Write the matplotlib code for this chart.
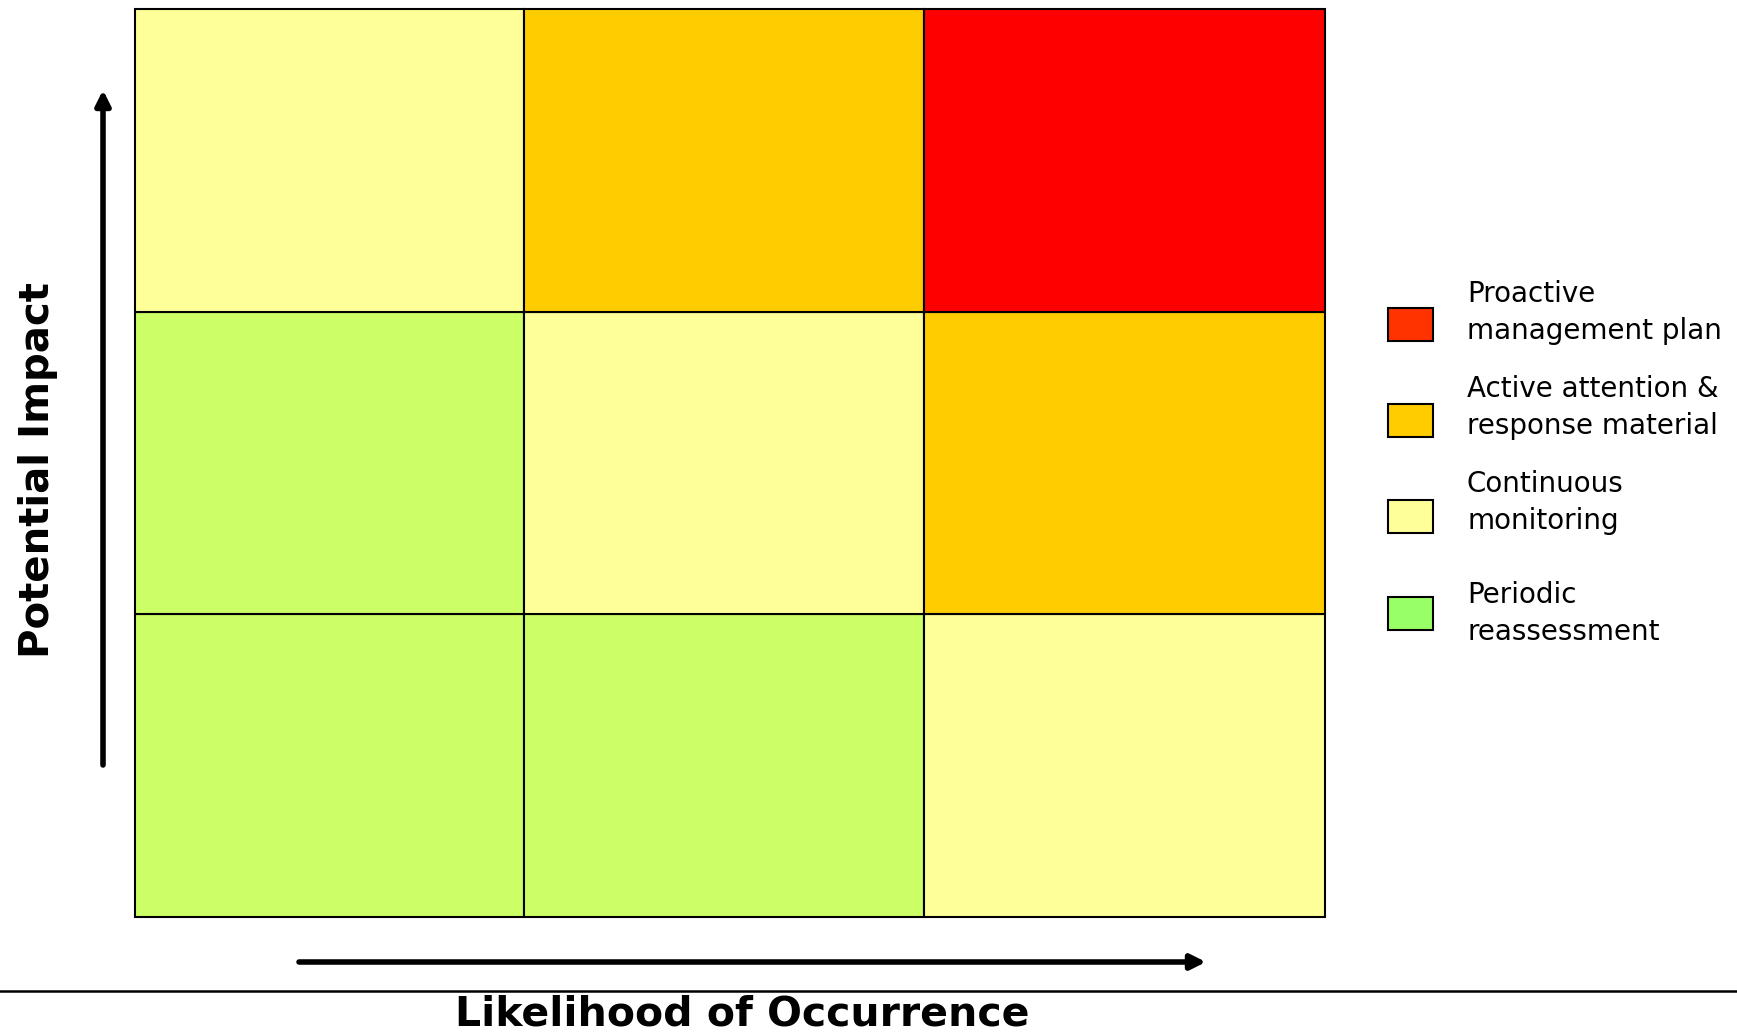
import matplotlib.pyplot as plt
from matplotlib.patches import Rectangle

# risk matrix: rows from bottom (low impact) to top (high impact), columns = likelihood
grid_levels = [
    [3, 3, 2],   # low impact
    [3, 2, 1],   # medium impact
    [2, 1, 0],   # high impact
]
level_labels = ['Proactive\nmanagement plan',
                'Active attention &\nresponse material',
                'Continuous\nmonitoring',
                'Periodic\nreassessment']
cell_colors = ['#FF0000', '#FFCC00', '#FFFF99', '#CCFF66']
legend_colors = ['#FF3300', '#FFCC00', '#FFFF99', '#99FF66']

x_title = 'Likelihood of Occurrence'
y_title = 'Potential Impact'

W, H = 1737, 1036
fig = plt.figure(figsize=(W / 100, H / 100), dpi=100)

# overlay axes in pixel coordinates for arrows, labels and legend
ov = fig.add_axes([0, 0, 1, 1])
ov.set_xlim(0, W)
ov.set_ylim(H, 0)
ov.axis('off')

# grid axes
gl, gr, gt, gb = 135, 1325, 9, 917
ax = fig.add_axes([gl / W, 1 - gb / H, (gr - gl) / W, (gb - gt) / H])
ax.set_xlim(0, 3)
ax.set_ylim(0, 3)
ax.axis('off')

# columns in the original are not quite equal
col_edges = [0, 0.98, 1.99, 3]
for r, row in enumerate(grid_levels):
    for c, lvl in enumerate(row):
        x0, x1 = col_edges[c], col_edges[c + 1]
        ax.add_patch(Rectangle((x0, r), x1 - x0, 1, facecolor=cell_colors[lvl],
                               edgecolor='black', lw=1.5, clip_on=False))

# arrows
arrow = dict(arrowstyle='-|>', color='black', lw=4, mutation_scale=22,
             shrinkA=0, shrinkB=0)
ov.annotate('', xy=(103, 90), xytext=(103, 765), arrowprops=arrow)
ov.annotate('', xy=(1206, 962), xytext=(299, 962), arrowprops=arrow)

# separator line
ov.plot([0, W], [991, 991], color='black', lw=1.8)

# axis titles
ov.text(742, 1026, x_title, ha='center', va='baseline',
        fontsize=29.5, fontweight='bold')
ov.text(49, 470, y_title, ha='center', va='baseline', rotation=90,
        rotation_mode='anchor', fontsize=29, fontweight='bold')

# legend
box_tops = [308, 404, 500, 597]
text_base = [302, 397, 492, 603]
for i, lab in enumerate(level_labels):
    ov.add_patch(Rectangle((1388, box_tops[i]), 45, 33,
                           facecolor=legend_colors[i], edgecolor='black', lw=1.5))
    for j, line in enumerate(lab.split('\n')):
        ov.text(1467, text_base[i] + 37 * j, line, ha='left', va='baseline',
                fontsize=20)

fig.savefig('out.png', dpi=100)
plt.close()
